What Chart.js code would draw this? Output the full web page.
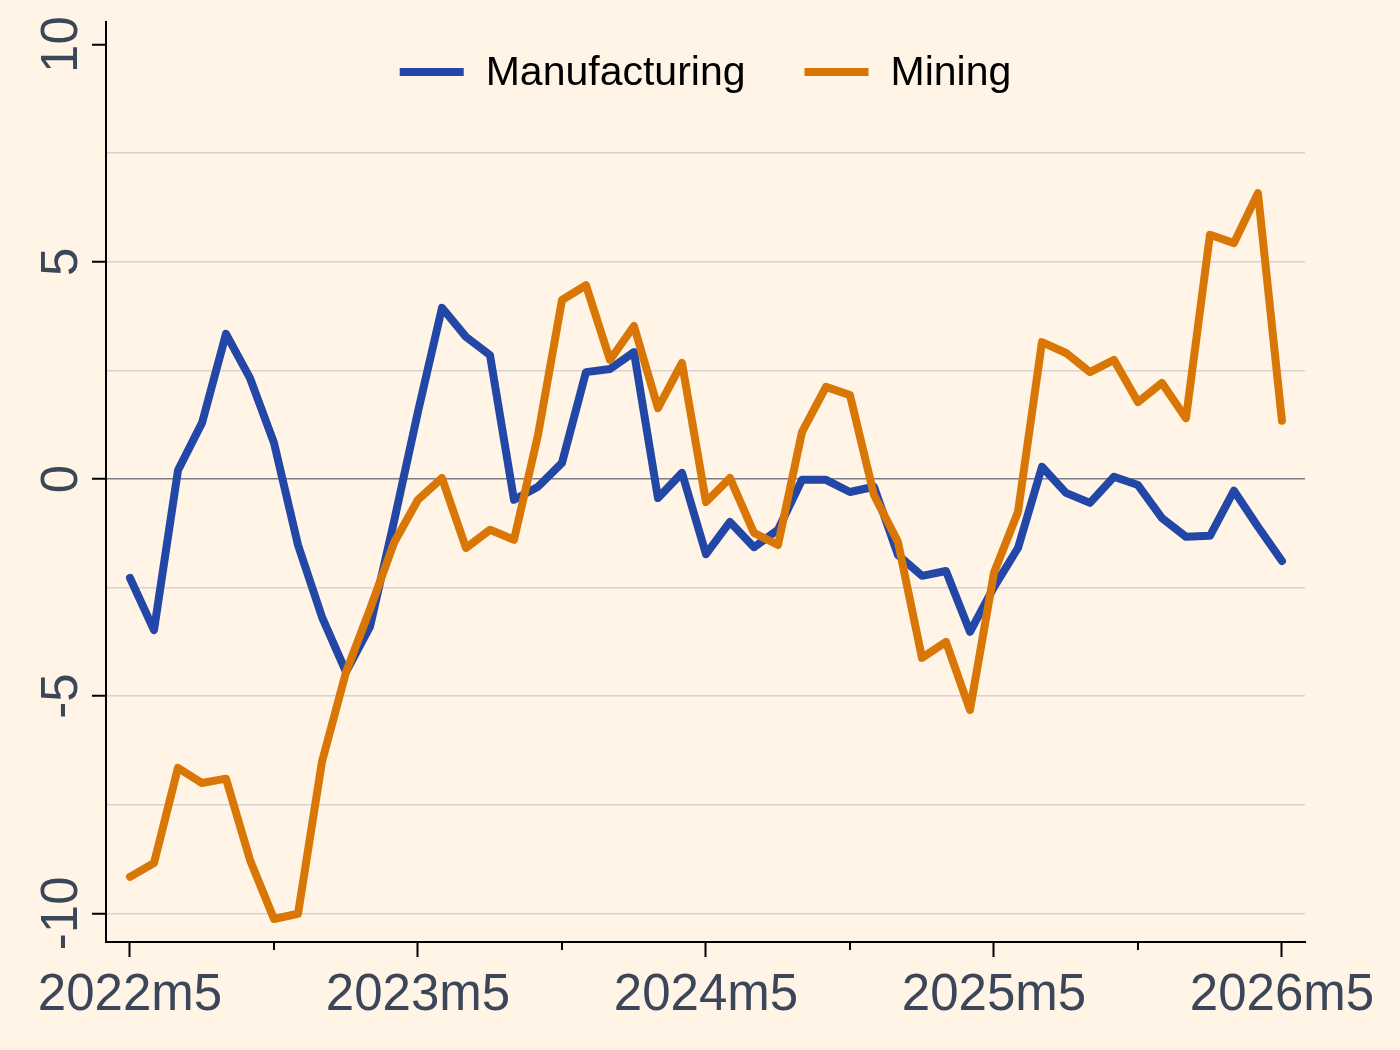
<!DOCTYPE html>
<html>
<head>
<meta charset="utf-8">
<script src="https://cdn.jsdelivr.net/npm/chart.js@4"></script>
<style>
    body { margin: 0; background: #fff4e6; }
    #wrap { width: 1400px; height: 1050px; position: relative; }
</style>
</head>
<body>
<div id="wrap"><canvas id="myChart"></canvas></div>
<script>
const months = [
    '2022m5', '2022m6', '2022m7', '2022m8', '2022m9', '2022m10', '2022m11', '2022m12',
    '2023m1', '2023m2', '2023m3', '2023m4', '2023m5', '2023m6', '2023m7', '2023m8', '2023m9', '2023m10', '2023m11', '2023m12',
    '2024m1', '2024m2', '2024m3', '2024m4', '2024m5', '2024m6', '2024m7', '2024m8', '2024m9', '2024m10', '2024m11', '2024m12',
    '2025m1', '2025m2', '2025m3', '2025m4', '2025m5', '2025m6', '2025m7', '2025m8', '2025m9', '2025m10', '2025m11', '2025m12',
    '2026m1', '2026m2', '2026m3', '2026m4', '2026m5'
];

const manufacturing = [
    -2.28, -3.48, 0.2, 1.29, 3.34, 2.32, 0.83, -1.52, -3.18, -4.44,
    -3.4, -0.98, 1.55, 3.94, 3.27, 2.85, -0.48, -0.18, 0.37, 2.46,
    2.53, 2.92, -0.44, 0.14, -1.73, -0.99, -1.57, -1.17, -0.02, -0.02,
    -0.3, -0.18, -1.75, -2.23, -2.12, -3.52, -2.49, -1.59, 0.28, -0.32,
    -0.55, 0.05, -0.14, -0.9, -1.33, -1.31, -0.27, -1.1, -1.89
];

const mining = [
    -9.16, -8.84, -6.65, -7.0, -6.9, -8.77, -10.13, -10.01, -6.51, -4.45,
    -3.0, -1.47, -0.48, 0.02, -1.59, -1.17, -1.4, 1.01, 4.12, 4.46,
    2.74, 3.52, 1.63, 2.67, -0.53, 0.02, -1.24, -1.52, 1.08, 2.12,
    1.93, -0.37, -1.45, -4.12, -3.75, -5.32, -2.16, -0.76, 3.15, 2.9,
    2.46, 2.74, 1.77, 2.21, 1.4, 5.62, 5.43, 6.58, 1.34
];

const xTickLabels = ['2022m5', '2023m5', '2024m5', '2025m5', '2026m5'];
const xMinorTicks = ['2022m11', '2023m11', '2024m11', '2025m11'];
const yTickLabels = [-10, -5, 0, 5, 10];
const yGridValues = [-10, -7.5, -5, -2.5, 0, 2.5, 5, 7.5, 10];

const blue = 'rgb(35, 71, 166)';
const orange = 'rgb(217, 119, 6)';
const textColor = '#3b4758';
const fontFamily = '"Liberation Sans", Arial, sans-serif';

function toPoints(values) {
    return values.map((v, i) => ({ x: i, y: v }));
}

// y labels are rotated like in the original, so they are drawn here
const yLabelPlugin = {
    id: 'yLabels',
    afterDraw(chart) {
        const ctx = chart.ctx;
        const y = chart.scales.y;
        ctx.save();
        ctx.fillStyle = textColor;
        ctx.font = '51px ' + fontFamily;
        ctx.textAlign = 'center';
        ctx.textBaseline = 'alphabetic';
        yTickLabels.forEach(v => {
            ctx.save();
            ctx.translate(77, y.getPixelForValue(v));
            ctx.rotate(-Math.PI / 2);
            ctx.fillText(String(v), 0, 0);
            ctx.restore();
        });
        ctx.restore();
    }
};

// short half-year ticks on the x axis
const minorTickPlugin = {
    id: 'minorTicks',
    afterDraw(chart) {
        const ctx = chart.ctx;
        const x = chart.scales.x;
        const top = chart.chartArea.bottom;
        ctx.save();
        ctx.strokeStyle = '#000';
        ctx.lineWidth = 2;
        xMinorTicks.forEach(m => {
            const px = x.getPixelForValue(months.indexOf(m));
            ctx.beginPath();
            ctx.moveTo(px, top);
            ctx.lineTo(px, top + 8);
            ctx.stroke();
        });
        ctx.restore();
    }
};

const legendPlugin = {
    id: 'lineLegend',
    afterDraw(chart) {
        const ctx = chart.ctx;
        const area = chart.chartArea;
        const boxW = 64, boxH = 8, boxGap = 22, itemGap = 59;
        ctx.save();
        ctx.font = '41px ' + fontFamily;
        const items = chart.data.datasets.map(ds => ({
            label: ds.label,
            color: ds.borderColor,
            w: boxW + boxGap + ctx.measureText(ds.label).width
        }));
        const total = items.reduce((s, it) => s + it.w, 0) + itemGap * (items.length - 1);
        let x = (area.left + area.right) / 2 - total / 2;
        const cy = 72;
        items.forEach(it => {
            ctx.fillStyle = it.color;
            ctx.fillRect(x, cy - boxH / 2, boxW, boxH);
            ctx.fillStyle = '#000';
            ctx.textAlign = 'left';
            ctx.textBaseline = 'middle';
            ctx.fillText(it.label, x + boxW + boxGap, cy + 2);
            x += it.w + itemGap;
        });
        ctx.restore();
    }
};

const bgPlugin = {
    id: 'bg',
    beforeDraw(chart) {
        const ctx = chart.ctx;
        ctx.save();
        ctx.fillStyle = '#fff4e6';
        ctx.fillRect(0, 0, chart.width, chart.height);
        ctx.restore();
    }
};

const ctx = document.getElementById('myChart').getContext('2d');
const chart = new Chart(ctx, {
    type: 'line',
    data: {
        datasets: [{
            label: 'Manufacturing',
            data: toPoints(manufacturing),
            borderColor: blue,
            backgroundColor: blue,
            borderWidth: 8,
            order: 1
        }, {
            label: 'Mining',
            data: toPoints(mining),
            borderColor: orange,
            backgroundColor: orange,
            borderWidth: 8,
            order: 0
        }]
    },
    options: {
        responsive: true,
        maintainAspectRatio: false,
        devicePixelRatio: 1,
        animation: false,
        layout: {
            padding: { left: 0, right: 95, top: 22, bottom: 0 }
        },
        elements: {
            point: { radius: 0 },
            line: { tension: 0, borderCapStyle: 'round', borderJoinStyle: 'round' }
        },
        scales: {
            x: {
                type: 'linear',
                min: -1,
                max: 48.96,
                afterBuildTicks: scale => {
                    scale.ticks = xTickLabels.map(l => ({ value: months.indexOf(l) }));
                },
                afterFit: scale => { scale.height = 108; },
                border: { color: '#000', width: 2 },
                grid: {
                    drawOnChartArea: false,
                    drawTicks: true,
                    tickLength: 15,
                    tickColor: '#000',
                    tickWidth: 2
                },
                ticks: {
                    padding: 8,
                    color: textColor,
                    font: { size: 51, family: fontFamily },
                    maxRotation: 0,
                    autoSkip: false,
                    callback: value => months[value]
                }
            },
            y: {
                min: -10.66,
                max: 10.52,
                afterBuildTicks: scale => {
                    scale.ticks = yGridValues.map(v => ({ value: v }));
                },
                afterFit: scale => { scale.width = 106; },
                border: { color: '#000', width: 2 },
                grid: {
                    drawTicks: true,
                    tickLength: 14,
                    lineWidth: 1.5,
                    color: c => {
                        const v = c.tick.value;
                        if (v === 0) return '#7a7d85';
                        if (v === 10) return 'rgba(0,0,0,0)';
                        return '#d8d2d0';
                    },
                    tickColor: c => (c.tick.value % 5 === 0 ? '#000' : 'rgba(0,0,0,0)'),
                    tickWidth: 2
                },
                ticks: { display: false }
            }
        },
        plugins: {
            legend: { display: false },
            tooltip: { enabled: false }
        }
    },
    plugins: [bgPlugin, yLabelPlugin, minorTickPlugin, legendPlugin]
});
</script>
</body>
</html>
